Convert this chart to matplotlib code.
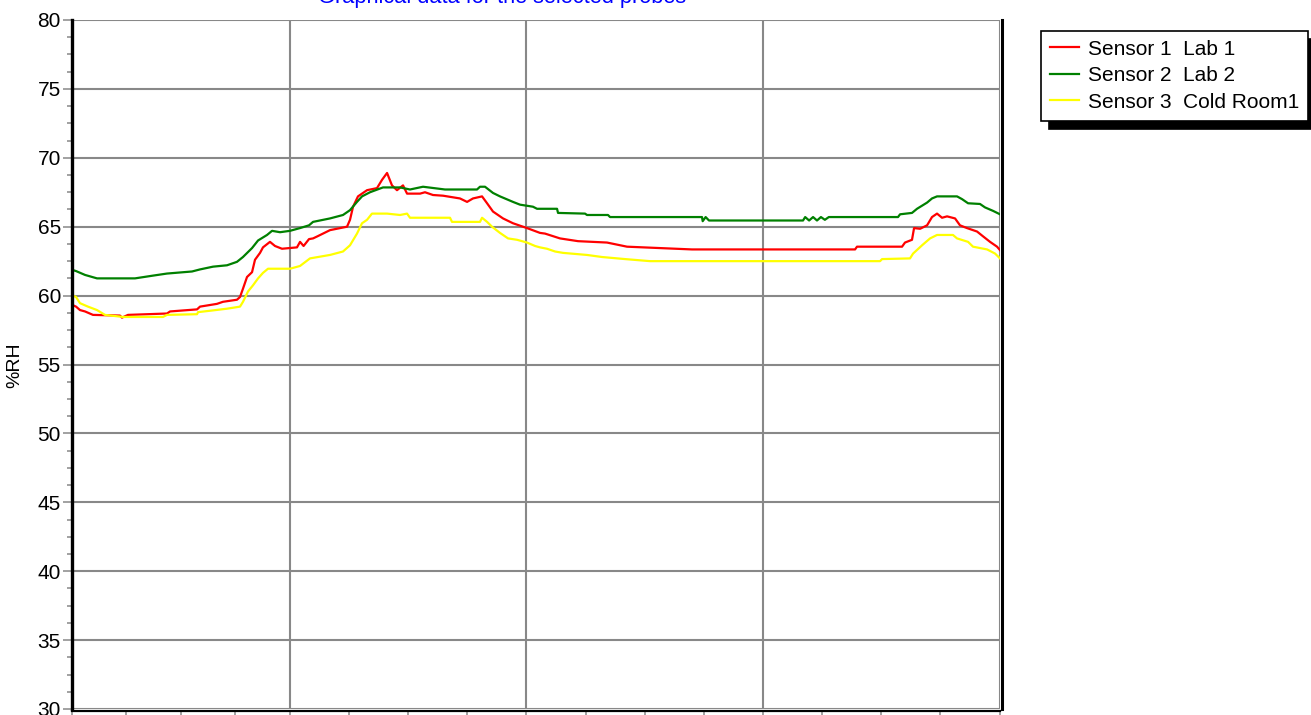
import matplotlib
matplotlib.use("Agg")
import matplotlib.pyplot as plt
from matplotlib.ticker import MultipleLocator, FixedLocator, NullFormatter

plt.rcParams['font.family'] = ['Liberation Sans', 'DejaVu Sans']

# ---- data (hours from start of record, %RH) ----
title = "Graphical data for the selected probes"
ylabel = "%RH"
labels = ["Sensor 1  Lab 1", "Sensor 2  Lab 2", "Sensor 3  Cold Room1"]
colors = ["#FF0000", "#008000", "#FFFF00"]

hours_s1 = [0.1, 0.41, 0.81, 1.32, 2.13, 4.87, 5.07, 5.68, 9.64, 9.95, 12.69, 12.99, 14.71, 15.32,
            16.74, 17.05, 17.35, 17.76, 18.27, 18.57, 19.08, 19.38, 20.09, 20.6, 21.31, 22.83,
            23.14, 23.5, 24.05, 24.46, 24.9, 26.18, 27.91, 28.21, 28.52, 29.02, 29.94, 30.95,
            31.46, 31.97, 32.47, 32.98, 33.59, 34.0, 35.32, 35.82, 36.63, 37.65, 39.37, 40.09,
            40.69, 41.61, 42.12, 42.72, 43.74, 44.75, 46.17, 47.49, 48.0, 49.52, 51.35, 54.29,
            56.32, 62.92, 79.46, 79.66, 84.23, 84.53, 85.24, 85.45, 86.06, 86.77, 87.27, 87.78,
            88.29, 88.8, 89.61, 90.11, 90.82, 91.84, 92.45, 93.16, 93.87, 94.17]
rh_s1 = [59.3, 59.2, 58.95, 58.85, 58.6, 58.55, 58.4, 58.6, 58.7, 58.85, 59.0, 59.2, 59.4, 59.55,
         59.7, 59.9, 60.5, 61.35, 61.7, 62.6, 63.1, 63.5, 63.9, 63.6, 63.4, 63.5,
         63.9, 63.6, 64.1, 64.15, 64.3, 64.75, 65.0, 65.5, 66.45, 67.2, 67.65, 67.8,
         68.4, 68.9, 68.0, 67.65, 68.0, 67.4, 67.4, 67.5, 67.3, 67.25, 67.05, 66.8,
         67.05, 67.2, 66.7, 66.1, 65.6, 65.25, 64.9, 64.55, 64.5, 64.15, 63.95, 63.85,
         63.55, 63.35, 63.35, 63.55, 63.55, 63.85, 64.05, 64.9, 64.85, 65.1, 65.7, 65.95,
         65.65, 65.75, 65.6, 65.1, 64.9, 64.65, 64.3, 63.9, 63.55, 63.3]

hours_s2 = [0.1, 0.41, 1.32, 2.54, 6.39, 8.22, 9.64, 12.18, 12.99, 14.31, 15.73, 16.74, 17.35,
            18.27, 18.88, 19.79, 20.3, 21.11, 22.12, 23.14, 24.05, 24.46, 26.18, 27.5, 28.21,
            28.92, 29.43, 30.24, 31.56, 33.29, 34.3, 35.62, 37.85, 41.1, 41.4, 41.91, 42.72,
            43.43, 44.75, 45.46, 46.78, 47.19, 49.22, 49.32, 52.06, 52.26, 54.39, 54.6, 63.93,
            64.0, 64.3, 64.64, 74.18, 74.4, 74.8, 75.2, 75.6, 76.0, 76.4, 76.8, 77.23, 83.82,
            84.03, 85.24, 85.75, 86.77, 87.27, 87.78, 89.81, 90.32, 90.93, 92.14, 92.65, 93.46,
            94.17]
rh_s2 = [61.85, 61.78, 61.5, 61.25, 61.25, 61.45, 61.6, 61.75, 61.9, 62.1, 62.2, 62.45, 62.8,
         63.45, 64.0, 64.4, 64.7, 64.6, 64.7, 64.9, 65.1, 65.35, 65.6, 65.85, 66.2,
         66.8, 67.2, 67.5, 67.85, 67.85, 67.7, 67.9, 67.7, 67.7, 67.9, 67.9, 67.45,
         67.2, 66.8, 66.6, 66.45, 66.3, 66.3, 66.0, 65.95, 65.85, 65.85, 65.7, 65.7,
         65.4, 65.7, 65.45, 65.45, 65.7, 65.45, 65.7, 65.45, 65.7, 65.5, 65.7, 65.7, 65.7,
         65.9, 66.0, 66.3, 66.75, 67.05, 67.2, 67.2, 67.0, 66.7, 66.65, 66.4, 66.15,
         65.9]

hours_s3 = [0.1, 0.41, 0.81, 1.62, 2.54, 3.35, 5.18, 9.23, 9.64, 12.69, 12.79, 14.0, 15.73,
            17.05, 17.35, 17.86, 18.37, 18.88, 19.38, 19.89, 22.12, 23.14, 24.15, 24.96, 26.18,
            27.5, 28.21, 28.92, 29.43, 29.94, 30.44, 31.97, 33.29, 34.0, 34.3, 38.36, 38.56,
            41.4, 41.61, 42.12, 42.62, 43.43, 44.25, 45.16, 46.17, 46.99, 47.49, 48.2, 49.02,
            49.83, 52.26, 53.79, 56.12, 58.66, 82.0, 82.2, 85.04, 85.35, 86.26, 87.07, 87.78,
            89.4, 89.81, 90.93, 91.43, 92.86, 93.67, 94.17]
rh_s3 = [60.0, 59.9, 59.45, 59.2, 58.95, 58.6, 58.45, 58.45, 58.6, 58.65, 58.8, 58.9, 59.05,
         59.2, 59.55, 60.3, 60.75, 61.25, 61.65, 61.95, 61.95, 62.15, 62.7, 62.8, 62.95,
         63.2, 63.65, 64.5, 65.25, 65.5, 65.95, 65.95, 65.85, 65.95, 65.65, 65.65, 65.35,
         65.35, 65.65, 65.35, 65.0, 64.55, 64.15, 64.05, 63.85, 63.6, 63.5, 63.4, 63.2,
         63.1, 62.95, 62.8, 62.65, 62.5, 62.5, 62.65, 62.7, 63.05, 63.65, 64.15, 64.4,
         64.4, 64.15, 63.9, 63.55, 63.35, 63.05, 62.7]

x_min, x_max = 0.0, 94.17
day_lines = [22.12, 46.12, 70.12, 94.12]
first_minor = [5.53, 11.06, 16.59]
y_min, y_max = 30, 80

# ---- figure ----
W, H = 1311, 715
fig = plt.figure(figsize=(W / 100, H / 100), dpi=100)
ax = fig.add_axes([72 / W, 1 - 709 / H, 928 / W, 689 / H])

series = [(hours_s1, rh_s1), (hours_s2, rh_s2), (hours_s3, rh_s3)]
for (xs, ys), lab, col in zip(series, labels, colors):
    ax.plot(xs, ys, color=col, lw=1.6, label=lab, zorder=3)

ax.set_xlim(x_min, x_max)
ax.set_ylim(y_min, y_max)

grid_col = "#888888"
ax.yaxis.set_major_locator(MultipleLocator(5))
ax.yaxis.set_minor_locator(MultipleLocator(1.25))
ax.xaxis.set_major_locator(FixedLocator(day_lines))
minors = first_minor + [d + k * 6 for d in day_lines[:-1] for k in (1, 2, 3)]
ax.xaxis.set_minor_locator(FixedLocator([0.0] + minors))
ax.xaxis.set_major_formatter(NullFormatter())
ax.xaxis.set_minor_formatter(NullFormatter())

ax.grid(True, which='major', color=grid_col, lw=1.5, zorder=1)
ax.tick_params(axis='y', which='major', direction='out', length=6.5, width=1.1,
               color=grid_col, labelsize=15, pad=1.5, labelcolor='black')
ax.tick_params(axis='y', which='minor', direction='out', length=3.8, width=1.1, color=grid_col)
ax.tick_params(axis='x', which='both', direction='out', length=6, width=1.1, color=grid_col)

ax.spines['top'].set_visible(False)
ax.spines['left'].set_linewidth(2.4)
ax.spines['left'].set_color('black')
ax.spines['right'].set_linewidth(2.2)
ax.spines['right'].set_position(('outward', 1.5))
ax.spines['bottom'].set_linewidth(1.6)
ax.spines['bottom'].set_position(('outward', 1.5))
for s in ax.spines.values():
    s.set_zorder(4)

fig.text(15 / W, 1 - 365 / H, ylabel, rotation=90, ha='center', va='center', fontsize=14)
fig.text(502 / W, 1 - 3.5 / H, title, ha='center', va='baseline', fontsize=15.7, color='#0000FF')

leg = ax.legend(loc='upper left', bbox_to_anchor=(1041 / W, 1 - 31 / H),
                bbox_transform=fig.transFigure, borderaxespad=0, fancybox=False,
                frameon=True, framealpha=1, edgecolor='black', fontsize=15,
                handlelength=1.4, handletextpad=0.43, labelspacing=0.36, borderpad=0.42,
                shadow={'ox': 6, 'oy': -6, 'color': 'black', 'alpha': 1})
leg.get_frame().set_linewidth(1.2)
for line in leg.get_lines():
    line.set_linewidth(1.6)

fig.savefig("out.png", dpi=100)
